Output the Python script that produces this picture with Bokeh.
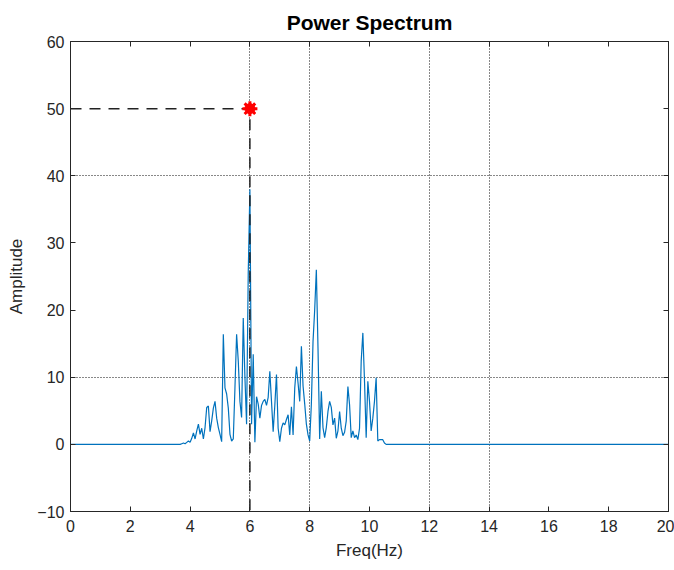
from bokeh.plotting import figure
from bokeh.models import LinearAxis, FixedTicker, Range1d
from bokeh.embed import file_html
from bokeh.resources import INLINE

# ---- data ----
BIN_WIDTH = 1.0 / 18.0      # Hz per FFT bin
FIRST_BIN = 65              # first bin of the listed band (~3.61 Hz)
FREQ_MIN, FREQ_MAX = 0.0, 20.0
band_amplitude = [
    0.0, 0.0, 0.1, 0.2, 0.1, 0.3, 0.5, 0.3, 0.9, 1.7,
    0.8, 2.0, 3.0, 1.5, 2.4, 0.8, 2.5, 5.5, 5.7, 1.9,
    3.5, 5.4, 6.4, 3.9, 2.5, 1.5, 0.4, 16.4, 8.4, 7.5,
    5.4, 1.5, 0.5, 0.8, 8.4, 16.4, 12.4, 6.4, 4.0, 18.8,
    10.0, 3.0, 25.5, 38.0, 3.0, 13.4, 0.3, 7.1, 6.0, 3.9,
    5.8, 6.4, 6.7, 5.8, 7.0, 10.9, 6.4, 1.9, 5.8, 10.4,
    2.4, 0.4, 2.4, 3.2, 2.9, 3.7, 4.4, 1.4, 5.6, 1.4,
    8.4, 11.6, 9.1, 6.4, 14.6, 8.7, 6.0, 3.0, 1.4, 0.5,
    6.0, 15.3, 20.0, 26.0, 14.3, 0.8, 7.9, 2.5, 1.0, 2.5,
    4.9, 6.4, 5.5, 2.9, 3.9, 0.9, 2.0, 4.9, 2.4, 1.3,
    1.8, 3.5, 8.6, 5.9, 1.0, 2.0, 1.0, 1.4, 0.7, 2.4,
    12.4, 16.6, 9.4, 1.0, 9.4, 6.4, 2.0, 3.9, 6.4, 9.9,
    0.5, 0.7, 0.7, 0.7, 0.2, 0.0,
]
peak_freq = 6.0
peak_amp = 50.0
x_ticks = [0, 2, 4, 6, 8, 10, 12, 14, 16, 18, 20]
y_ticks = [-10, 0, 10, 20, 30, 40, 50, 60]
grid_x = [6, 8, 12, 14]
grid_y = [10, 40]
x_lim = (0, 20)
y_lim = (-10, 60)

freqs = [FREQ_MIN] + [(FIRST_BIN + i) * BIN_WIDTH for i in range(len(band_amplitude))] + [FREQ_MAX]
amps = [0.0] + band_amplitude + [0.0]

AX = "#262626"
FONT = "Liberation Sans"

p = figure(width=674, height=570, output_backend="svg", toolbar_location=None,
           x_range=Range1d(*x_lim), y_range=Range1d(*y_lim),
           min_border_left=70, min_border_right=6, min_border_top=41, min_border_bottom=59,
           title="Power Spectrum")
p.background_fill_color = "white"
p.border_fill_color = "white"
p.outline_line_color = AX
p.outline_line_width = 1

p.title.align = "center"
p.title.text_font = FONT
p.title.text_font_size = "21px"
p.title.text_font_style = "bold"
p.title.text_color = "black"
p.title.standoff = 15

def style_axis(ax, ticks, show_labels=True):
    ax.ticker = FixedTicker(ticks=ticks)
    ax.axis_line_color = AX
    ax.major_tick_line_color = AX
    ax.major_tick_in = 5
    ax.major_tick_out = 0
    ax.minor_tick_line_color = None
    ax.major_label_text_font = FONT
    ax.major_label_text_font_size = "16px"
    ax.major_label_text_color = AX
    if not show_labels:
        ax.major_label_overrides = {t: "" for t in ticks}
        ax.major_label_text_font_size = "0px"
        ax.major_label_standoff = 0

style_axis(p.xaxis[0], x_ticks)
style_axis(p.yaxis[0], y_ticks)
p.xaxis[0].major_label_standoff = 8
p.yaxis[0].major_label_standoff = 6
p.xaxis[0].axis_label = "Freq(Hz)"
p.yaxis[0].axis_label = "Amplitude"
for ax in (p.xaxis[0], p.yaxis[0]):
    ax.axis_label_text_font = FONT
    ax.axis_label_text_font_size = "17px"
    ax.axis_label_text_font_style = "normal"
    ax.axis_label_text_color = AX
p.xaxis[0].axis_label_standoff = 6
p.yaxis[0].axis_label_standoff = 8

top_ax = LinearAxis()
style_axis(top_ax, x_ticks, show_labels=False)
p.add_layout(top_ax, "above")
right_ax = LinearAxis()
style_axis(right_ax, y_ticks, show_labels=False)
p.add_layout(right_ax, "right")

p.xgrid.ticker = FixedTicker(ticks=grid_x)
p.ygrid.ticker = FixedTicker(ticks=grid_y)
for g in (p.xgrid[0], p.ygrid[0]):
    g.grid_line_color = "#111111"
    g.grid_line_dash = "1 2"
    g.grid_line_width = 1

# spectrum
p.line(freqs, amps, line_color="#0072BD", line_width=1.2)

# reference lines to the peak marker
p.line([x_lim[0], peak_freq, peak_freq], [peak_amp, peak_amp, y_lim[0]],
       line_color="#222222", line_width=1.5, line_dash="11 8")

# peak marker
p.scatter([peak_freq], [peak_amp], marker="asterisk", size=15, line_color="red", line_width=3)
p.scatter([peak_freq], [peak_amp], marker="circle", size=10, fill_color="red", line_color="red")

open("out.html", "w").write(file_html(p, INLINE))
